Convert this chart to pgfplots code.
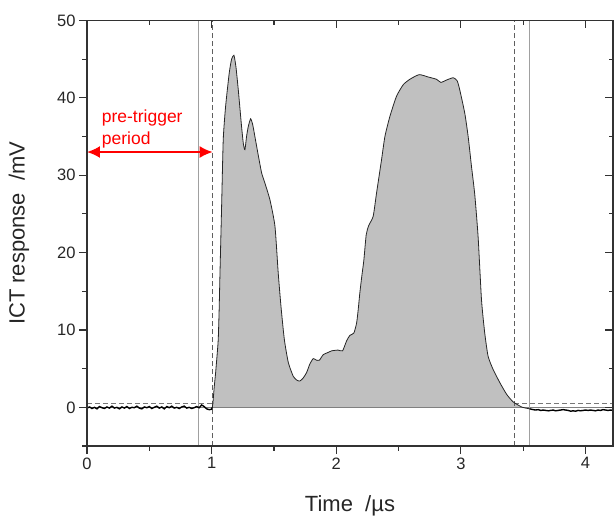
\documentclass[border=0pt]{standalone}
\usepackage{fontspec}
\setmainfont{Liberation Sans}
\usepackage{pgfplots}
\pgfplotsset{compat=1.18}
\usetikzlibrary{arrows.meta}
\definecolor{fillgray}{RGB}{192,192,192}
\definecolor{axisgray}{RGB}{50,50,50}
\definecolor{vsolid}{RGB}{160,160,160}
\definecolor{vdash}{RGB}{95,95,95}

\pgfplotstableread{
x y
0.00 -0.10
0.02 0.05
0.04 -0.15
0.06 0.00
0.08 -0.20
0.10 0.10
0.12 -0.05
0.14 -0.15
0.16 0.05
0.18 -0.10
0.20 0.15
0.22 -0.10
0.24 0.00
0.26 -0.20
0.28 0.05
0.30 -0.10
0.32 0.10
0.34 -0.15
0.36 0.00
0.38 -0.05
0.40 0.15
0.42 -0.10
0.44 -0.20
0.46 0.05
0.48 -0.05
0.50 0.10
0.52 -0.15
0.54 0.00
0.56 0.15
0.58 -0.10
0.60 0.05
0.62 -0.20
0.64 0.10
0.66 -0.05
0.68 0.15
0.70 -0.10
0.72 0.00
0.74 -0.15
0.76 0.05
0.78 0.15
0.80 -0.10
0.82 0.00
0.84 -0.15
0.86 -0.05
0.88 0.10
0.90 -0.05
0.92 0.30
0.94 0.10
0.96 -0.20
0.98 -0.30
1.00 -0.25
1.005 0.00
}\pretrig

\pgfplotstableread{
x y
1.005 0.0
1.010 0.5
1.020 2.5
1.032 4.5
1.045 7.0
1.053 8.8
1.060 12.5
1.067 17.4
1.080 26.0
1.093 34.6
1.112 38.9
1.141 43.2
1.160 45.0
1.179 45.5
1.195 44.0
1.214 41.0
1.240 36.3
1.255 34.0
1.267 33.3
1.280 35.0
1.294 36.3
1.313 37.3
1.330 36.5
1.347 35.0
1.375 32.5
1.401 30.3
1.427 29.0
1.468 26.8
1.508 23.4
1.534 17.4
1.556 13.1
1.583 8.8
1.615 5.8
1.655 4.0
1.685 3.5
1.708 3.4
1.735 3.8
1.762 4.5
1.788 5.6
1.815 6.3
1.840 6.1
1.865 6.1
1.895 6.8
1.935 7.1
1.962 7.3
2.015 7.4
2.050 7.3
2.083 8.6
2.109 9.3
2.141 9.6
2.163 10.9
2.175 12.5
2.189 14.8
2.205 17.0
2.221 19.0
2.240 22.3
2.260 23.5
2.296 24.7
2.323 27.7
2.363 32.0
2.390 35.0
2.430 37.6
2.483 40.2
2.537 41.7
2.590 42.4
2.665 43.0
2.737 42.7
2.804 42.4
2.839 42.0
2.884 42.3
2.938 42.6
2.970 42.2
2.991 41.0
3.031 38.0
3.058 35.0
3.085 31.1
3.111 27.5
3.138 22.0
3.165 13.9
3.191 9.6
3.218 6.6
3.258 4.9
3.312 3.2
3.366 1.7
3.419 0.7
3.486 0.05
3.520 -0.10
3.553 -0.20
}\signal

\pgfplotstableread{
x y
3.553 -0.20
3.58 -0.30
3.60 -0.35
3.62 -0.30
3.64 -0.40
3.66 -0.35
3.68 -0.40
3.70 -0.45
3.72 -0.40
3.74 -0.35
3.76 -0.45
3.78 -0.40
3.80 -0.35
3.82 -0.30
3.84 -0.35
3.86 -0.40
3.88 -0.50
3.90 -0.45
3.92 -0.50
3.94 -0.40
3.96 -0.45
3.98 -0.40
4.00 -0.35
4.02 -0.40
4.04 -0.35
4.06 -0.40
4.08 -0.45
4.10 -0.35
4.12 -0.40
4.14 -0.30
4.16 -0.35
4.18 -0.40
4.20 -0.35
4.22 -0.40
}\posttrig

\begin{document}
\begin{tikzpicture}
\pgfplotsset{
  common/.style={
    at={(0pt,0pt)}, anchor=south west,
    scale only axis, width=526pt, height=425.5pt,
    xmin=0, xmax=4.22, ymin=-5, ymax=50,
    xtick={0,1,2,3,4}, ytick={0,10,20,30,40,50},
    minor xtick={0.5,1.5,2.5,3.5},
    minor ytick={-5,5,15,25,35,45},
    major tick length=8pt, minor tick length=4.5pt,
    every tick/.style={axisgray, line width=1.1pt},
    every minor tick/.style={axisgray, line width=1.1pt},
    axis line style={axisgray, line width=1.3pt},
    /pgf/number format/assume math mode=true,
  }
}
\begin{axis}[common,
  tick align=outside, xtick pos=bottom, ytick pos=left,
  axis on top,
  ticklabel style={font=\fontsize{16.5pt}{19pt}\selectfont, text=black!85},
  xlabel={Time\ \ /µs},
  ylabel={ICT response\ \ /mV},
  label style={font=\fontsize{22pt}{26pt}\selectfont, text=black!85},
  xlabel style={at={(axis description cs:0.5,-0.1544)}, anchor=base},
  ylabel style={at={(axis description cs:-0.1293,0.5)}, anchor=center},
]
% fill of the pulse
\addplot[draw=none, fill=fillgray, smooth, tension=0.35] table[x=x,y=y]{\signal} \closedcycle;
% zero line
\addplot[vsolid!80!black, line width=0.8pt] coordinates {(0,0) (4.22,0)};
% threshold dashed lines
\addplot[vdash!85, line width=1pt, dash pattern=on 5pt off 3pt] coordinates {(0,0.5) (1.008,0.5)};
\addplot[vdash!85, line width=1pt, dash pattern=on 5pt off 3pt] coordinates {(3.427,0.5) (4.22,0.5)};
% vertical markers
\addplot[vsolid, line width=0.9pt] coordinates {(0.893,-5) (0.893,50)};
\addplot[vsolid, line width=0.9pt] coordinates {(3.553,-5) (3.553,50)};
\addplot[vdash, line width=1.1pt, dash pattern=on 5pt off 3pt] coordinates {(1.008,-5) (1.008,50)};
\addplot[vdash, line width=1.1pt, dash pattern=on 5pt off 3pt] coordinates {(3.427,-5) (3.427,50)};
% signal curves
\addplot[black!85, line width=0.8pt, smooth, tension=0.35] table[x=x,y=y]{\signal};
\addplot[black, line width=1.4pt] table[x=x,y=y]{\pretrig};
\addplot[black, line width=1.4pt] table[x=x,y=y]{\posttrig};
% annotation
\draw[red, line width=1.8pt, {Latex[length=13pt,width=12pt]}-{Latex[length=13pt,width=12pt]}]
  (axis cs:0,33) -- (axis cs:1.008,33);
\node[red, anchor=north west, inner sep=0pt, align=left,
  font=\fontsize{17.5pt}{21.5pt}\selectfont] at (axis cs:0.1176,38.45) {pre-trigger\\period};
\end{axis}
\begin{axis}[common,
  tick align=inside, xtick pos=top, ytick pos=right,
  xticklabels={}, yticklabels={},
  axis line style={draw=none},
]
\end{axis}
\pgfresetboundingbox
\path (-87pt,-69pt) rectangle (527pt,446pt);
\end{tikzpicture}
\end{document}
